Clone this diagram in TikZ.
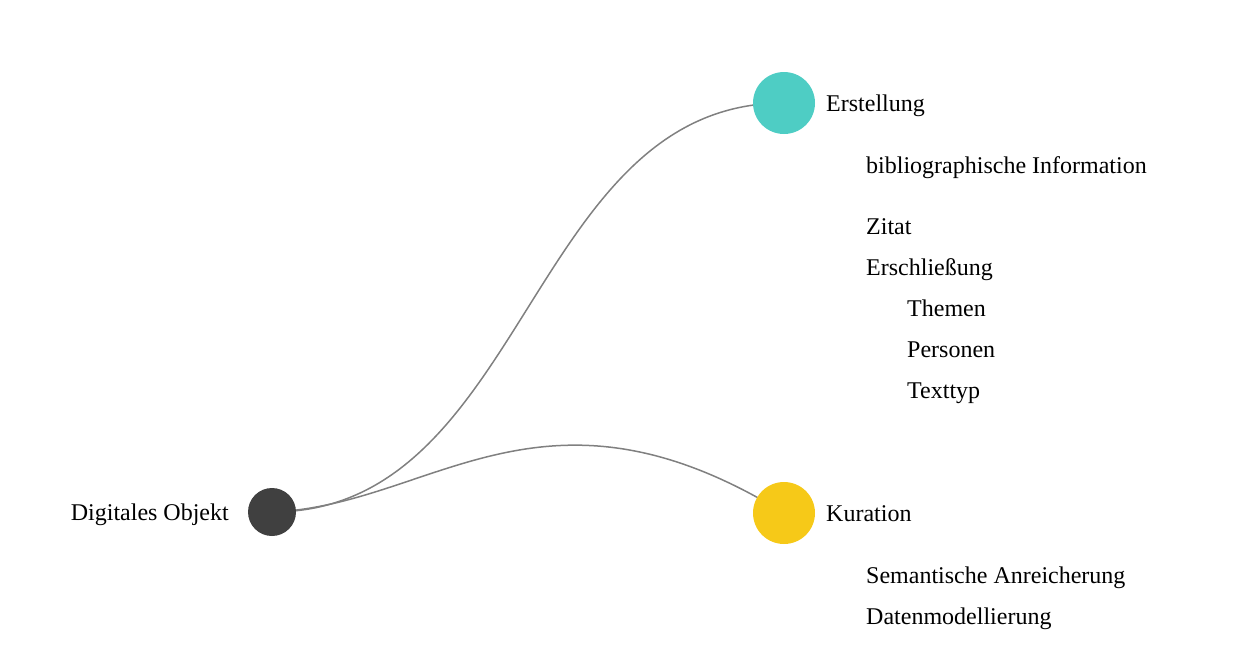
\documentclass[tikz,border=0pt]{standalone}
\usepackage{fontspec}
\setmainfont{Liberation Serif}
\definecolor{nodeteal}{HTML}{4ECDC4}
\definecolor{nodeyellow}{HTML}{F6C918}
\definecolor{nodedark}{HTML}{404040}
\definecolor{linkgray}{HTML}{808080}
\pgfdeclarelayer{bg}
\pgfsetlayers{bg,main}
\begin{document}
\begin{tikzpicture}[x=1pt,y=-1pt,
  dot/.style={circle, draw=none, inner sep=0pt},
  lbl/.style={anchor=base west, inner sep=0pt, font=\fontsize{24}{28}\selectfont},
  lblr/.style={anchor=base east, inner sep=0pt, font=\fontsize{24}{28}\selectfont},
  link/.style={draw=linkgray, line width=1.5pt}]
\useasboundingbox (0,0) rectangle (1242,662);
\node[dot, fill=nodedark, minimum size=48pt] (root) at (272,512) {};
\node[dot, fill=nodeteal, minimum size=62pt] (ers) at (784,103) {};
\node[dot, fill=nodeyellow, minimum size=62pt] (kur) at (784,513) {};
\begin{pgfonlayer}{bg}
\draw[link] (root.center) .. controls (528,512) and (528,103) .. (ers.center);
\draw[link] (root.center) .. controls (432,506) and (542,364) .. (kur.center);
\end{pgfonlayer}
\node[lblr] (lroot) at (229,520) {Digitales Objekt};
\node[lbl] (lers) at (826,111) {Erstellung};
\node[lbl] (lkur) at (826,521) {Kuration};
\node[lbl] (c1) at (866,173) {bibliographische Information};
\node[lbl] (c2) at (866,234) {Zitat};
\node[lbl] (c3) at (866,275) {Erschließung};
\node[lbl] (c4) at (907,316) {Themen};
\node[lbl] (c5) at (907,357) {Personen};
\node[lbl] (c6) at (907,398) {Texttyp};
\node[lbl] (k1) at (866,583) {Semantische Anreicherung};
\node[lbl] (k2) at (866,624) {Datenmodellierung};
\end{tikzpicture}
\end{document}
